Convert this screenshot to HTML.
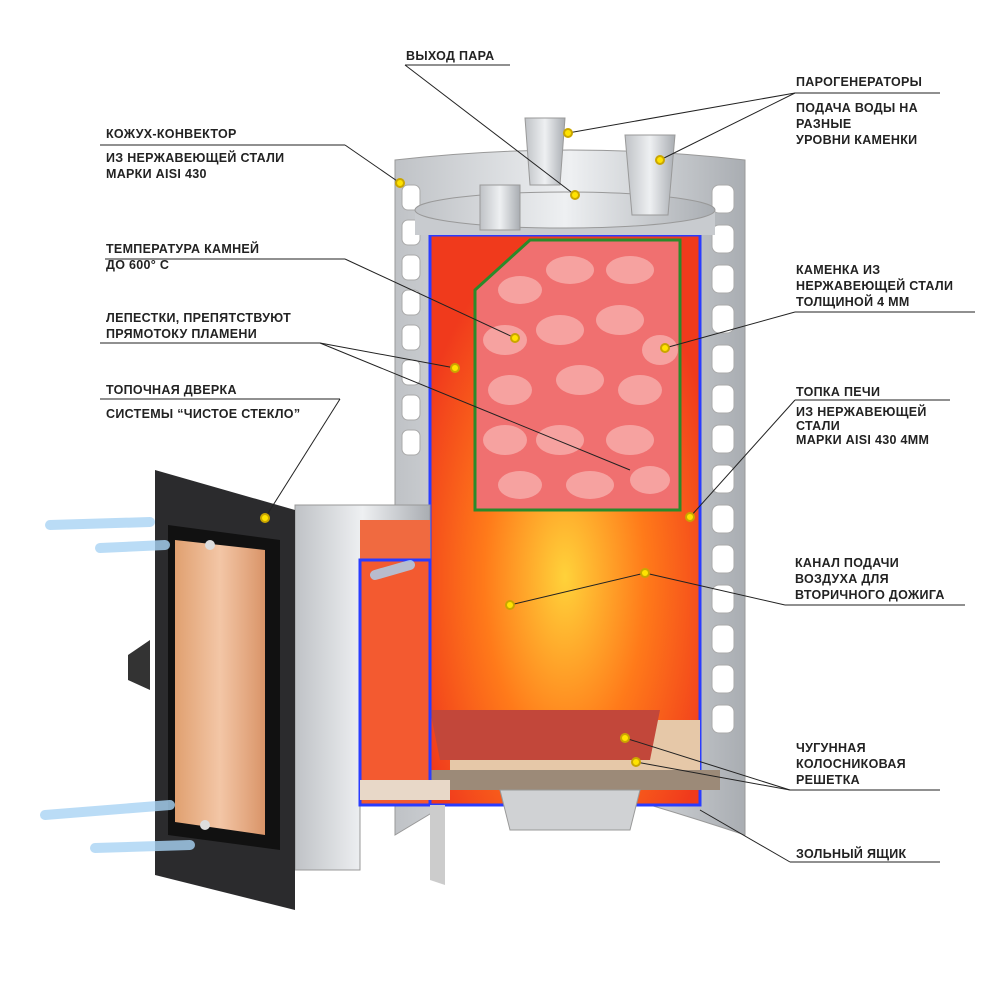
<!DOCTYPE html>
<html><head><meta charset="utf-8"><style>
body{margin:0;background:#fff;width:1000px;height:1000px;overflow:hidden;position:relative;font-family:"Liberation Sans",sans-serif}
.t{position:absolute;font-size:12.5px;font-weight:bold;color:#222;letter-spacing:0.3px;line-height:16px}
svg{position:absolute;left:0;top:0}
</style></head><body>
<svg width="1000" height="1000">
<defs>
<linearGradient id="steel" x1="0" x2="1"><stop offset="0" stop-color="#bfc2c6"/><stop offset=".5" stop-color="#eef0f2"/><stop offset="1" stop-color="#a9adb2"/></linearGradient>
<radialGradient id="fire" cx=".5" cy=".6" r=".6"><stop offset="0" stop-color="#ffd23a"/><stop offset=".5" stop-color="#ff7a1a"/><stop offset="1" stop-color="#f03a1c"/></radialGradient>
<linearGradient id="glass" x1="0" x2="1"><stop offset="0" stop-color="#e0a070"/><stop offset=".5" stop-color="#f3c6a6"/><stop offset="1" stop-color="#d99468"/></linearGradient>
</defs>
<!-- outer convector -->
<path d="M395 160 Q570 140 745 160 L745 835 Q700 820 650 805 L445 805 L395 835 Z" fill="url(#steel)" stroke="#999"/>
<g fill="#fff" stroke="#aaa">
<rect x="402" y="185" width="18" height="25" rx="6"/><rect x="402" y="220" width="18" height="25" rx="6"/><rect x="402" y="255" width="18" height="25" rx="6"/><rect x="402" y="290" width="18" height="25" rx="6"/><rect x="402" y="325" width="18" height="25" rx="6"/><rect x="402" y="360" width="18" height="25" rx="6"/><rect x="402" y="395" width="18" height="25" rx="6"/><rect x="402" y="430" width="18" height="25" rx="6"/>
<rect x="712" y="185" width="22" height="28" rx="7"/><rect x="712" y="225" width="22" height="28" rx="7"/><rect x="712" y="265" width="22" height="28" rx="7"/><rect x="712" y="305" width="22" height="28" rx="7"/><rect x="712" y="345" width="22" height="28" rx="7"/><rect x="712" y="385" width="22" height="28" rx="7"/><rect x="712" y="425" width="22" height="28" rx="7"/><rect x="712" y="465" width="22" height="28" rx="7"/><rect x="712" y="505" width="22" height="28" rx="7"/><rect x="712" y="545" width="22" height="28" rx="7"/><rect x="712" y="585" width="22" height="28" rx="7"/><rect x="712" y="625" width="22" height="28" rx="7"/><rect x="712" y="665" width="22" height="28" rx="7"/><rect x="712" y="705" width="22" height="28" rx="7"/>
</g>
<!-- inner firebox -->
<rect x="430" y="235" width="270" height="570" fill="url(#fire)" stroke="#2a3cff" stroke-width="3"/>
<rect x="450" y="720" width="250" height="50" fill="#e6c8a8"/>
<rect x="430" y="770" width="290" height="20" fill="#9c8a78"/>
<path d="M500 790 L640 790 L630 830 L510 830 Z" fill="#d0d2d4" stroke="#999"/>
<path d="M430 710 L660 710 L650 760 L440 760 Z" fill="#c2473a"/>
<!-- stone container -->
<path d="M475 290 L530 240 L680 240 L680 510 L475 510 Z" fill="#f07070" stroke="#2a8a2a" stroke-width="3"/>
<g fill="#f6a2a0">
<ellipse cx="520" cy="290" rx="22" ry="14"/><ellipse cx="570" cy="270" rx="24" ry="14"/><ellipse cx="630" cy="270" rx="24" ry="14"/><ellipse cx="505" cy="340" rx="22" ry="15"/><ellipse cx="560" cy="330" rx="24" ry="15"/><ellipse cx="620" cy="320" rx="24" ry="15"/><ellipse cx="660" cy="350" rx="18" ry="15"/><ellipse cx="510" cy="390" rx="22" ry="15"/><ellipse cx="580" cy="380" rx="24" ry="15"/><ellipse cx="640" cy="390" rx="22" ry="15"/><ellipse cx="505" cy="440" rx="22" ry="15"/><ellipse cx="560" cy="440" rx="24" ry="15"/><ellipse cx="630" cy="440" rx="24" ry="15"/><ellipse cx="520" cy="485" rx="22" ry="14"/><ellipse cx="590" cy="485" rx="24" ry="14"/><ellipse cx="650" cy="480" rx="20" ry="14"/>
</g>
<!-- top -->
<rect x="415" y="210" width="300" height="25" fill="#c8cbcf"/>
<ellipse cx="565" cy="210" rx="150" ry="18" fill="url(#steel)" stroke="#999"/>
<path d="M525 118 L565 118 L560 185 L530 185 Z" fill="url(#steel)" stroke="#999"/>
<path d="M625 135 L675 135 L668 215 L632 215 Z" fill="url(#steel)" stroke="#999"/>
<rect x="480" y="185" width="40" height="45" fill="url(#steel)" stroke="#999"/>
<!-- tunnel -->
<path d="M295 505 L430 505 L430 560 L360 560 L360 870 L295 870 Z" fill="url(#steel)" stroke="#999"/>
<path d="M360 520 L430 520 L430 560 L360 560Z" fill="#f06a40"/>
<path d="M360 560 L430 560 L430 805 L360 805 Z" fill="#f35a30" stroke="#2a3cff" stroke-width="3"/>
<path d="M360 780 L450 780 L450 800 L360 800Z" fill="#e8d8c8"/>
<path d="M430 805 L445 805 L445 885 L430 880 Z" fill="#ccc"/>
<!-- door -->
<path d="M155 470 L295 510 L295 910 L155 875 Z" fill="#2b2b2d"/>
<path d="M168 525 L280 540 L280 850 L168 835 Z" fill="#111"/>
<path d="M175 540 L265 550 L265 835 L175 822 Z" fill="url(#glass)"/>
<path d="M128 655 L150 640 L150 690 L128 680 Z" fill="#333"/>
<circle cx="210" cy="545" r="5" fill="#ddd"/><circle cx="205" cy="825" r="5" fill="#ddd"/>
<!-- air arrows -->
<g stroke="#a9d4f5" stroke-width="10" fill="none" stroke-linecap="round" opacity=".8">
<path d="M50 525 L150 522"/><path d="M100 548 L165 545"/><path d="M45 815 L170 805"/><path d="M95 848 L190 845"/><path d="M375 575 L410 565"/>
</g>
<!-- leader lines -->
<g stroke="#222" stroke-width="1" fill="none">
<line x1="100" y1="145" x2="345" y2="145"/><line x1="345" y1="145" x2="400" y2="183"/>
<line x1="405" y1="65" x2="510" y2="65"/><line x1="405" y1="65" x2="575" y2="195"/>
<line x1="795" y1="93" x2="940" y2="93"/><line x1="795" y1="93" x2="568" y2="133"/><line x1="795" y1="93" x2="660" y2="160"/>
<line x1="105" y1="259" x2="345" y2="259"/><line x1="345" y1="259" x2="515" y2="338"/>
<line x1="795" y1="312" x2="975" y2="312"/><line x1="795" y1="312" x2="665" y2="348"/>
<line x1="100" y1="343" x2="320" y2="343"/><line x1="320" y1="343" x2="455" y2="368"/><line x1="320" y1="343" x2="630" y2="470"/>
<line x1="100" y1="399" x2="340" y2="399"/><line x1="340" y1="399" x2="265" y2="518"/>
<line x1="795" y1="400" x2="950" y2="400"/><line x1="795" y1="400" x2="690" y2="517"/>
<line x1="785" y1="605" x2="965" y2="605"/><line x1="785" y1="605" x2="645" y2="573"/><line x1="645" y1="573" x2="510" y2="605"/>
<line x1="790" y1="790" x2="940" y2="790"/><line x1="790" y1="790" x2="625" y2="738"/><line x1="790" y1="790" x2="636" y2="762"/>
<line x1="790" y1="862" x2="940" y2="862"/><line x1="790" y1="862" x2="700" y2="810"/>
</g>
<g fill="#ffe300" stroke="#caa600" stroke-width="2">
<circle cx="400" cy="183" r="4"/><circle cx="575" cy="195" r="4"/><circle cx="568" cy="133" r="4"/><circle cx="660" cy="160" r="4"/><circle cx="515" cy="338" r="4"/><circle cx="665" cy="348" r="4"/><circle cx="455" cy="368" r="4"/><circle cx="265" cy="518" r="4"/><circle cx="690" cy="517" r="4"/><circle cx="645" cy="573" r="4"/><circle cx="510" cy="605" r="4"/><circle cx="625" cy="738" r="4"/><circle cx="636" cy="762" r="4"/>
</g>
</svg>
<div class="t" style="left:406px;top:48px">ВЫХОД ПАРА</div>
<div class="t" style="left:796px;top:74px">ПАРОГЕНЕРАТОРЫ</div>
<div class="t" style="left:796px;top:100px">ПОДАЧА ВОДЫ НА<br>РАЗНЫЕ<br>УРОВНИ КАМЕНКИ</div>
<div class="t" style="left:106px;top:126px">КОЖУХ-КОНВЕКТОР</div>
<div class="t" style="left:106px;top:150px">ИЗ НЕРЖАВЕЮЩЕЙ СТАЛИ<br>МАРКИ AISI 430</div>
<div class="t" style="left:106px;top:241px">ТЕМПЕРАТУРА КАМНЕЙ<br>ДО 600° С</div>
<div class="t" style="left:796px;top:262px">КАМЕНКА ИЗ<br>НЕРЖАВЕЮЩЕЙ СТАЛИ<br>ТОЛЩИНОЙ 4 ММ</div>
<div class="t" style="left:106px;top:310px">ЛЕПЕСТКИ, ПРЕПЯТСТВУЮТ<br>ПРЯМОТОКУ ПЛАМЕНИ</div>
<div class="t" style="left:106px;top:382px">ТОПОЧНАЯ ДВЕРКА</div>
<div class="t" style="left:106px;top:406px">СИСТЕМЫ “ЧИСТОЕ СТЕКЛО”</div>
<div class="t" style="left:796px;top:384px">ТОПКА ПЕЧИ</div>
<div class="t" style="left:796px;top:405px;line-height:14px">ИЗ НЕРЖАВЕЮЩЕЙ<br>СТАЛИ<br>МАРКИ AISI 430 4ММ</div>
<div class="t" style="left:795px;top:555px">КАНАЛ ПОДАЧИ<br>ВОЗДУХА ДЛЯ<br>ВТОРИЧНОГО ДОЖИГА</div>
<div class="t" style="left:796px;top:740px">ЧУГУННАЯ<br>КОЛОСНИКОВАЯ<br>РЕШЕТКА</div>
<div class="t" style="left:796px;top:846px">ЗОЛЬНЫЙ ЯЩИК</div>
</body></html>
